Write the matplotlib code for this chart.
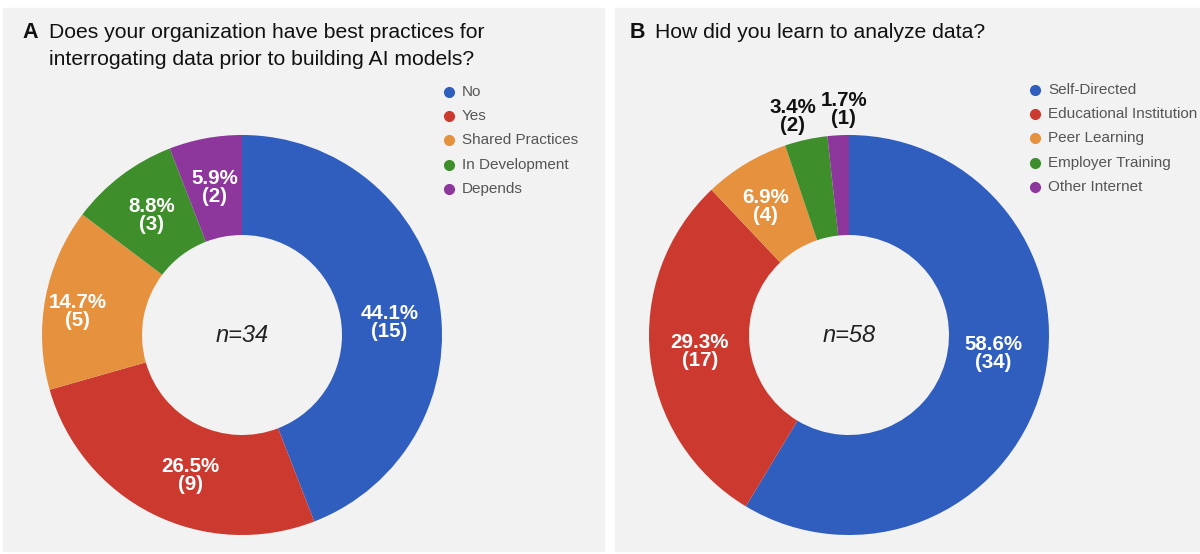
import matplotlib

matplotlib.use("Agg")
import matplotlib.pyplot as plt
import numpy as np
from matplotlib.patches import Rectangle

plt.rcParams["font.family"] = ["Liberation Sans", "DejaVu Sans"]

W, H = 1200, 554
BG = "#f2f2f2"

# panel A
A_LABELS = ["No", "Yes", "Shared Practices", "In Development", "Depends"]
A_COUNTS = [15, 9, 5, 3, 2]
A_PCTS = [44.1, 26.5, 14.7, 8.8, 5.9]
A_TITLE = ["Does your organization have best practices for",
           "interrogating data prior to building AI models?"]

# panel B
B_LABELS = ["Self-Directed", "Educational Institution", "Peer Learning", "Employer Training", "Other Internet"]
B_COUNTS = [34, 17, 4, 2, 1]
B_PCTS = [58.6, 29.3, 6.9, 3.4, 1.7]
B_TITLE = "How did you learn to analyze data?"

COLORS = ["#2f5ebe", "#cc3a2f", "#e6913e", "#3e8e2b", "#8d369b"]

# small pixel nudges for slice labels (right, down), like the original chart tool placed them
A_NUDGE = [(0, 15), (15, 6), (-17, 4), (0, 0), (0, 0)]
B_NUDGE = [(0, -22), (0, 0), (-6, 0), (-8, 2), (7, 0)]


def px(x, y):
    return x / W, 1 - y / H


def draw_donut(fig, cx, cy, counts, pcts, n_text, outside, nudge):
    r = 200
    ax = fig.add_axes([(cx - r) / W, (H - cy - r) / H, 2 * r / W, 2 * r / H], zorder=2)
    ax.patch.set_visible(False)
    ax.pie(counts, colors=COLORS, startangle=90, counterclock=False, radius=1.0,
           wedgeprops=dict(width=0.5, linewidth=0))
    ax.set_xlim(-1, 1)
    ax.set_ylim(-1, 1)
    ax.set_aspect("auto")
    ax.axis("off")
    total = sum(counts)
    cum = np.cumsum([0] + list(counts))
    for i, (c, p) in enumerate(zip(counts, pcts)):
        mid = (cum[i] + c / 2) / total * 2 * np.pi
        if i in outside:
            dist, col = 1.13, "#111111"
        else:
            dist, col = 0.75, "white"
        dx, dy = nudge[i]
        ax.text(dist * np.sin(mid) + dx / r, dist * np.cos(mid) - dy / r, f"{p}%\n({c})",
                ha="center", va="center", color=col, fontsize=14.8, fontweight="bold",
                linespacing=0.92, clip_on=False)
    ax.text(0, 0, n_text, ha="center", va="center", fontsize=17, style="italic", color="#222222")


def draw_legend(fig, x, y0, labels):
    for i, lab in enumerate(labels):
        y = y0 + i * 24.2
        fig.text(*px(x + 13, y), lab, ha="left", va="center", fontsize=11, color="#555555")
        fig.lines.append(plt.Line2D([x / W], [1 - y / H], marker="o", markersize=7, color=COLORS[i],
                                    linestyle="none", transform=fig.transFigure))


fig = plt.figure(figsize=(W / 100, H / 100), dpi=100)
fig.patch.set_facecolor("white")
fig.patches.append(Rectangle(px(3, 551), 601 / W, 543 / H, transform=fig.transFigure, color=BG, zorder=-5))
fig.patches.append(Rectangle(px(615, 551), 590 / W, 543 / H, transform=fig.transFigure, color=BG, zorder=-5))

# titles
fig.text(*px(22, 38), "A", fontsize=15.5, fontweight="bold", color="#111111", va="baseline")
fig.text(*px(49, 38), A_TITLE[0], fontsize=15.2, color="#111111", va="baseline")
fig.text(*px(49, 65), A_TITLE[1], fontsize=15.2, color="#111111", va="baseline")
fig.text(*px(630, 38), "B", fontsize=15.5, fontweight="bold", color="#111111", va="baseline")
fig.text(*px(655, 38), B_TITLE, fontsize=15.2, color="#111111", va="baseline")

draw_donut(fig, 242, 335, A_COUNTS, A_PCTS, "n=34", outside=[], nudge=A_NUDGE)
draw_donut(fig, 849, 335, B_COUNTS, B_PCTS, "n=58", outside=[3, 4], nudge=B_NUDGE)

draw_legend(fig, 449, 92, A_LABELS)
draw_legend(fig, 1035, 90, B_LABELS)

fig.savefig("out.png", dpi=100, facecolor=fig.get_facecolor())
